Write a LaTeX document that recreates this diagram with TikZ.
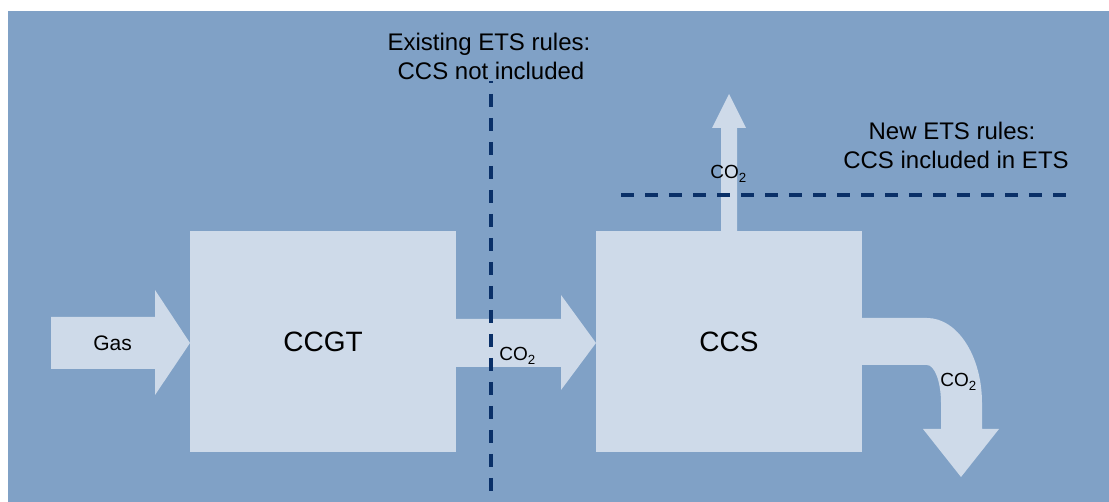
\documentclass[tikz,border=0pt]{standalone}
\usepackage{fontspec}
\setmainfont{Liberation Sans}
\definecolor{bgblue}{RGB}{128,161,198}
\definecolor{boxblue}{RGB}{206,218,233}
\definecolor{rulenavy}{RGB}{10,48,104}

\begin{document}
\begin{tikzpicture}[x=0.5pt,y=0.5pt,
  unit/.style={fill=boxblue,minimum width=133pt,minimum height=110.5pt,inner sep=0pt,font=\fontsize{14}{17}\selectfont},
  flow/.style={fill=boxblue},
  ruleline/.style={draw=rulenavy,line width=1.75pt,dash pattern=on 6.5pt off 5.5pt},
  note/.style={font=\fontsize{12}{14.5}\selectfont,anchor=base,inner sep=0pt},
  flowname/.style={font=\fontsize{9.5}{11}\selectfont,anchor=base west,inner sep=0pt}]
\useasboundingbox (0,0) rectangle (1109,502);
\fill[bgblue] (8,0) rectangle (1109,491);
% plant units
\node[unit] (ccgt) at (323,160.5) {CCGT};
\node[unit] (ccs) at (729,160.5) {CCS};
% flows
\fill[flow] (51,133) -- (155,133) -- (155,107) -- (190,159) -- (155,212) -- (155,185) -- (51,185) -- cycle;
\fill[flow] (456,135) -- (561,135) -- (561,112) -- (596,159) -- (561,207) -- (561,183) -- (456,183) -- cycle;
\fill[flow] (721,271) -- (721,374) -- (712,374) -- (729,408) -- (746,374) -- (737,374) -- (737,271) -- cycle;
\fill[flow] (861,184) -- (927,184) arc[start angle=90,end angle=0,x radius=55,y radius=85] -- (982,73) -- (999,73) -- (961,25) -- (923,73) -- (941,73) -- (941,99) arc[start angle=0,end angle=90,x radius=14,y radius=38] -- (861,137) -- cycle;
\node[flowname,font=\fontsize{10.5}{12}\selectfont] (gas) at (93,151) {Gas};
\foreach \n/\p in {co2mid/{(499,141)},co2up/{(710,323)},co2out/{(940,115)}}{\node[flowname] (\n) at \p {CO\textsubscript{2}};}
% ETS boundaries
\draw[ruleline,dash phase=5.5pt] (491,421) -- (491,7);
\draw[ruleline] (621,307) -- (1072,307);
\node[note] (oldrules) at (489,451) {Existing ETS rules:};
\node[note] (oldccs) at (491,422) {CCS not included};
\node[note] (newrules) at (952,362) {New ETS rules:};
\node[note] (newccs) at (956,333) {CCS included in ETS};
\end{tikzpicture}
\end{document}
